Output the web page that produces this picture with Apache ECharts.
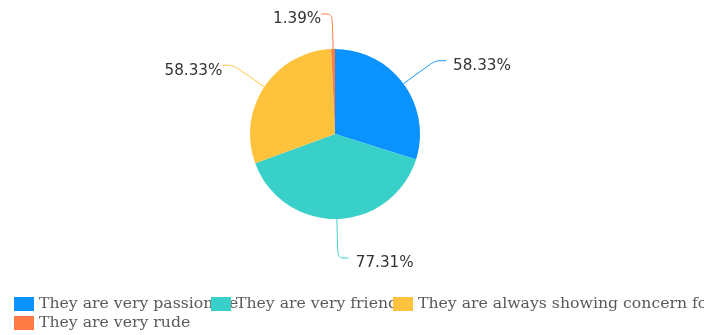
<!DOCTYPE html>
<html>
<head>
<meta charset="utf-8">
<script src="https://cdn.jsdelivr.net/npm/echarts@6/dist/echarts.min.js"></script>
<style>
  html, body { margin: 0; padding: 0; background: #fff; }
  #chart { width: 704px; height: 335px; }
</style>
</head>
<body>
<div id="chart"></div>
<script>
// Survey answers and the share of respondents choosing each one (%)
const categories = [
  'They are very passionate',
  'They are very friendly',
  'They are always showing concern for me',
  'They are very rude'
];
const values = [58.33, 77.31, 58.33, 1.39];
const colors = ['#0A93FF', '#38D0C9', '#FFC23D', '#FF7B45'];
// Gap between each label line's end and its text
const labelGaps = [7, 7, 0, 0];

// Fixed slots for the legend entries (left, top of each entry)
const legendSlots = [
  [9, 291],
  [206, 291],
  [388, 291],
  [9, 310]
];

const chart = echarts.init(document.getElementById('chart'), null, { renderer: 'canvas' });

const legends = categories.map((name, i) => ({
  left: legendSlots[i][0],
  top: legendSlots[i][1],
  padding: 5,
  icon: 'rect',
  itemWidth: 20,
  itemHeight: 14,
  textStyle: {
    fontFamily: 'DejaVu Serif',
    fontSize: 15.7,
    color: '#595959'
  },
  data: [name]
}));

chart.setOption({
  animation: false,
  color: colors,
  legend: legends,
  series: [{
    type: 'pie',
    center: [335, 134],
    radius: 85,
    startAngle: 90,
    clockwise: true,
    avoidLabelOverlap: true,
    label: {
      show: true,
      // empty first line drops the value slightly below the line end
      formatter: p => '\n' + p.value.toFixed(2) + '%',
      fontFamily: 'DejaVu Sans',
      fontSize: 15.2,
      lineHeight: 11,
      color: '#333'
    },
    labelLine: {
      show: true,
      smooth: true,
      length: 39,
      length2: 11
    },
    data: categories.map((name, i) => ({
      name: name,
      value: values[i],
      label: { distanceToLabelLine: labelGaps[i] }
    }))
  }]
});
</script>
</body>
</html>
